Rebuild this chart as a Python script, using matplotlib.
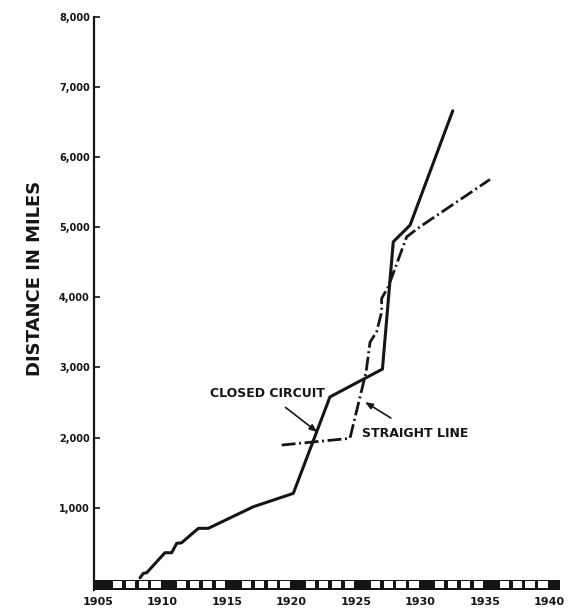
import matplotlib
matplotlib.use("Agg")
import matplotlib.pyplot as plt
from matplotlib.patches import Rectangle

# ---- data ----
closed_years = [1908.26, 1908.51, 1908.77, 1910.19, 1910.71, 1911.10, 1911.48,
                1912.78, 1913.55, 1917.04, 1920.14, 1922.98, 1927.05, 1927.89,
                1929.19, 1932.50]
closed_miles = [0, 63, 71, 357, 357, 491, 499, 705, 705, 1013, 1204, 2580,
                2977, 4793, 5030, 6662]

straight_years = [1919.24, 1924.53, 1925.78, 1926.09, 1926.60, 1926.99, 1926.99,
                  1927.50, 1928.93, 1929.96, 1935.39]
straight_miles = [1893, 1989, 2934, 3362, 3509, 3795, 3986, 4151, 4864, 5007, 5683]

year_ticks = [1905, 1910, 1915, 1920, 1925, 1930, 1935, 1940]
year_labels = ["1905", "1910", "1915", "1920", "1925", "1930", "1935", "1940"]
mile_ticks = [1000, 2000, 3000, 4000, 5000, 6000, 7000, 8000]
mile_labels = ["1,000", "2,000", "3,000", "4,000", "5,000", "6,000", "7,000", "8,000"]

INK = "#151515"

fig = plt.figure(figsize=(5.69, 6.12), dpi=100)
fig.patch.set_facecolor("white")
ax = fig.add_axes([0.1652, 0.0359, 0.8225, 0.9363])
ax.set_xlim(1904.69, 1940.97)
ax.set_ylim(-175, 8000)

# lines
ax.plot(closed_years, closed_miles, color=INK, lw=2.2, solid_joinstyle="round",
        solid_capstyle="round")
ax.plot(straight_years, straight_miles, color=INK, lw=2.0,
        linestyle=(0, (5, 1.3, 0.7, 1.3)))

# checkered year bar along the bottom
bar_bottom, bar_top = -175, -33
ax.add_patch(Rectangle((1904.69, bar_bottom), 1940.85 - 1904.69, bar_top - bar_bottom,
                       facecolor=INK, edgecolor="none", zorder=3, clip_on=False))
for yr in range(1905, 1940):
    if yr % 5 == 0:
        continue
    ax.add_patch(Rectangle((yr + 0.14, -150), 0.72, 98, facecolor="white",
                           edgecolor="none", zorder=4, clip_on=False))

# axes styling
for s in ["top", "right", "bottom"]:
    ax.spines[s].set_visible(False)
ax.spines["left"].set_linewidth(1.6)
ax.spines["left"].set_color(INK)
ax.spines["left"].set_bounds(-175, 8000)

ax.set_yticks(mile_ticks)
ax.set_yticklabels(mile_labels, fontsize=7, fontweight="bold", color=INK)
ax.tick_params(axis="y", direction="in", length=4, width=1.2, pad=3, colors=INK)
ax.set_xticks(year_ticks)
ax.set_xticklabels(year_labels, fontsize=8, fontweight="bold", color=INK)
ax.tick_params(axis="x", length=0, pad=5)

fig.text(0.0615, 0.5458, "DISTANCE IN MILES", rotation=90, ha="center", va="center",
         fontsize=13, fontweight="bold", color=INK)

# annotations
ax.annotate("CLOSED CIRCUIT", xy=(1922.0, 2079), xytext=(1918.1, 2635),
            ha="center", va="center", fontsize=9, fontweight="bold", color=INK,
            arrowprops=dict(arrowstyle="-|>,head_length=0.5,head_width=0.2",
                            color=INK, lw=1.2, shrinkA=6, shrinkB=0))
ax.annotate("STRAIGHT LINE", xy=(1925.7, 2507), xytext=(1929.6, 2064),
            ha="center", va="center", fontsize=9, fontweight="bold", color=INK,
            arrowprops=dict(arrowstyle="-|>,head_length=0.5,head_width=0.2",
                            color=INK, lw=1.2, shrinkA=8, shrinkB=0))

fig.savefig("out.png", dpi=100, facecolor="white")
